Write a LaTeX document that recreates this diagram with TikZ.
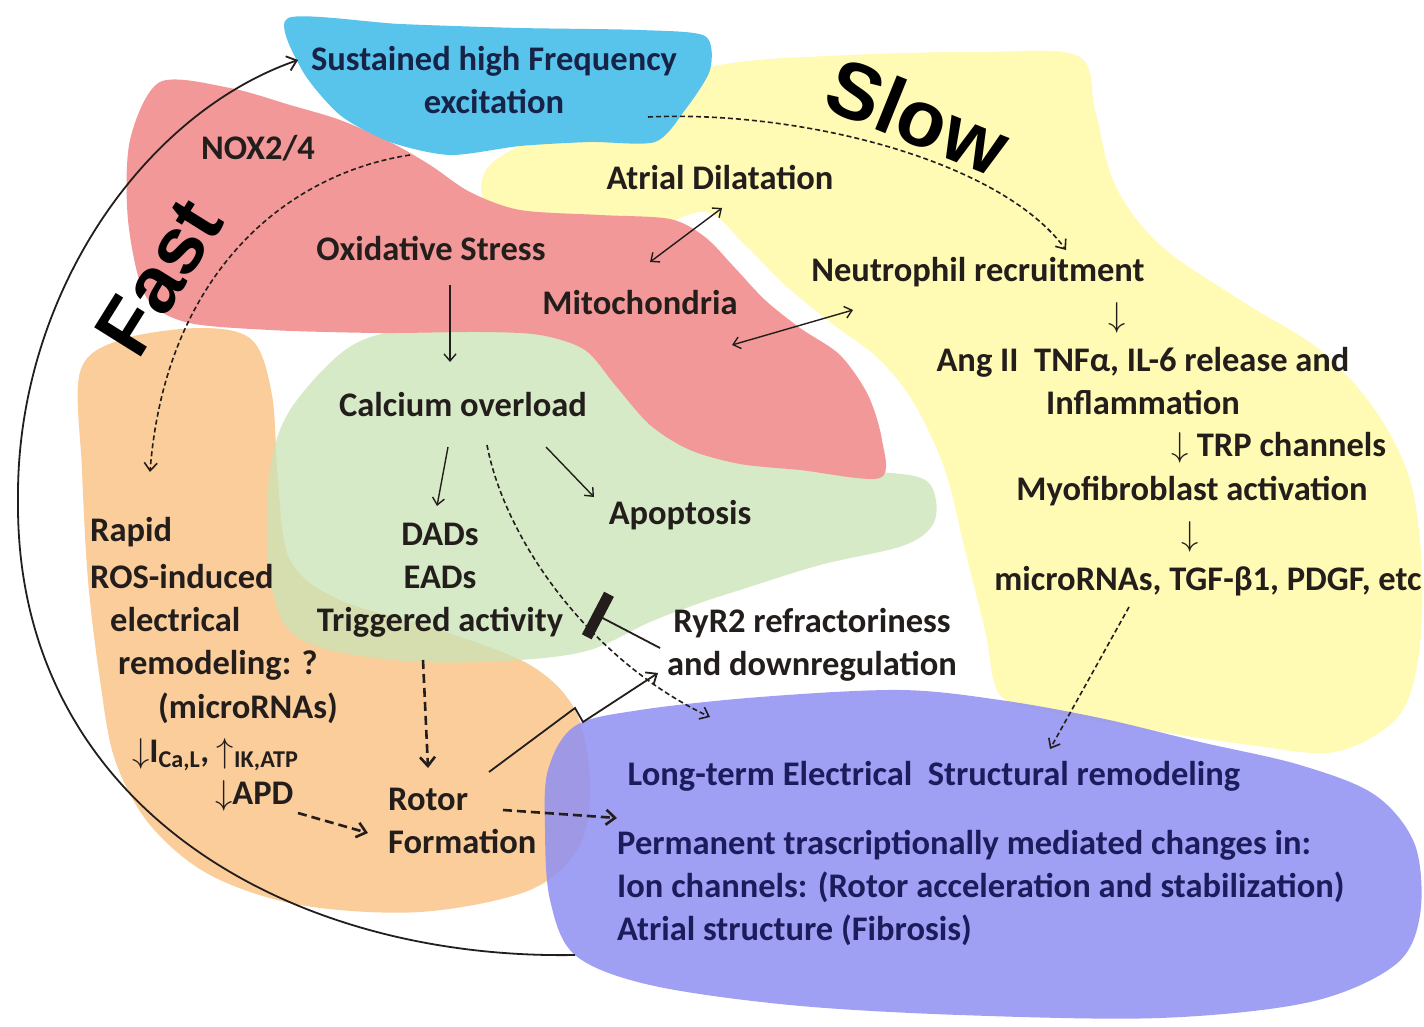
\documentclass[tikz,border=0pt]{standalone}
\usepackage{fix-cm}
\usepackage{fontspec}
\setmainfont{Carlito}
\newfontfamily\headfont{Liberation Sans}
\usetikzlibrary{arrows.meta}

\definecolor{ink}{RGB}{35,30,28}
\definecolor{navy}{RGB}{22,34,70}
\definecolor{deepblue}{RGB}{28,28,92}
\definecolor{cyanblob}{RGB}{88,196,236}
\definecolor{redblob}{RGB}{242,152,152}
\definecolor{yellowblob}{RGB}{255,250,180}
\definecolor{greenblob}{RGB}{202,228,182}
\definecolor{orangeblob}{RGB}{250,205,155}
\definecolor{purpleblob}{RGB}{143,143,243}

\begin{document}
\begin{tikzpicture}[x=1pt,y=-1pt,
    lbl/.style={inner sep=0pt, text=ink, align=center,
      font=\bfseries\fontsize{34.5}{43}\selectfont},
    big/.style={inner sep=0pt, font=\headfont\bfseries\fontsize{80}{80}\selectfont},
    thinarr/.style={-{Straight Barb[length=7pt,width=12pt]}, line width=1.4pt, color=ink},
    duoarr/.style={{Straight Barb[length=7pt,width=12pt]}-{Straight Barb[length=7pt,width=12pt]},
      line width=1.4pt, color=ink},
    solidarr/.style={-{Straight Barb[length=9pt,width=15pt]}, line width=1.8pt, color=ink},
    dasharr/.style={-{Straight Barb[length=8pt,width=13pt]}, line width=1.6pt, color=ink,
      dash pattern=on 5pt off 3pt},
    fatdash/.style={-{Straight Barb[length=9pt,width=15pt]}, line width=2.6pt, color=ink,
      dash pattern=on 9pt off 5pt}
  ]
  \fill[white] (0,0) rectangle (1424,1027);
  \useasboundingbox (0,0) rectangle (1424,1027);

  % painted regions
  \fill[yellowblob] plot[smooth cycle, tension=0.55] coordinates {
    (482,195) (490,165) (540,135) (620,100) (720,65) (850,55) (980,52)
    (1078,56) (1095,110) (1115,185) (1160,245) (1240,300) (1320,350)
    (1375,410) (1410,480) (1422,570) (1418,660) (1397,718) (1335,752)
    (1250,745) (1150,730) (1050,712) (1000,695) (985,630) (965,550)
    (945,470) (915,405) (880,360) (830,322) (785,285) (745,245)
    (705,212) (640,232) (560,230) (505,215)};
  \fill[orangeblob] plot[smooth cycle, tension=0.55] coordinates {
    (80,372) (120,340) (200,328) (252,340) (272,395) (278,480) (290,560)
    (340,600) (440,630) (530,665) (575,710) (590,780) (580,845) (530,890)
    (420,912) (300,905) (210,875) (150,825) (115,760) (100,680) (88,580)
    (82,470)};
  \fill[greenblob, fill opacity=0.75] plot[smooth cycle, tension=0.55] coordinates {
    (345,350) (400,330) (480,325) (560,335) (610,370) (650,415) (700,452)
    (780,468) (880,472) (928,482) (935,520) (905,545) (820,565) (740,590)
    (700,603) (650,622) (590,650) (520,660) (420,662) (330,650) (285,625)
    (268,560) (270,470) (290,410)};
  \fill[redblob] plot[smooth cycle, tension=0.5] coordinates {
    (160,82) (230,88) (290,105) (340,120) (390,142) (430,165) (470,192)
    (520,210) (600,215) (670,219) (705,237) (735,268) (765,300) (800,328)
    (840,355) (868,395) (882,440) (880,478) (800,470) (740,464) (690,450)
    (650,425) (615,385) (585,350) (540,335) (480,332) (380,333) (270,330)
    (185,322) (145,295) (128,220) (130,140)};
  \fill[cyanblob] plot[smooth cycle, tension=0.45] coordinates {
    (288,18) (400,24) (520,28) (640,30) (705,36) (710,70) (685,110)
    (655,142) (590,142) (520,146) (450,155) (390,142) (340,115) (302,70)};
  \fill[purpleblob, fill opacity=0.85] plot[smooth cycle, tension=0.55] coordinates {
    (548,770) (575,726) (640,710) (760,697) (900,690) (1000,700) (1100,718)
    (1200,742) (1300,765) (1375,795) (1415,845) (1420,915) (1395,965)
    (1310,1002) (1160,1018) (960,1015) (790,1005) (650,985) (575,955)
    (550,900) (545,830)};

  % loose ends on the regions
  \coordinate (blueedge) at (410,155);
  \coordinate (loopend) at (575,955);

  % labels
  \node[lbl, text=navy] (sustained) at (494,80) {Sustained high Frequency\\excitation};
  \node[lbl] (nox) at (258,148) {NOX2/4};
  \node[lbl] (oxid) at (431,248) {Oxidative Stress};
  \node[lbl] (atrial) at (720,177) {Atrial Dilatation};
  \node[lbl] (mito) at (640,303) {Mitochondria};
  \node[lbl] (neutro) at (978,272) {Neutrophil recruitment};
  \node[lbl] (dn1) at (1117,318) {$\downarrow$};
  \node[lbl] (ang) at (1143,381) {Ang II\ \ TNFα, IL-6 release and\\Inflammation};
  \node[lbl] (trp) at (1279,448) {$\downarrow$ TRP channels};
  \node[lbl] (myofib) at (1192,491) {Myofibroblast activation};
  \node[lbl] (dn2) at (1190,537) {$\downarrow$};
  \node[lbl] (mirna) at (1208,581) {microRNAs, TGF-β1, PDGF, etc};
  \node[lbl] (calcium) at (463,405) {Calcium overload};
  \node[lbl] (apopt) at (680,515) {Apoptosis};
  \node[lbl] (trig) at (440,580) {DADs\\EADs\\Triggered activity};
  \node[lbl] (ryr) at (812,645) {RyR2 refractoriness\\and downregulation};
  \node[lbl, anchor=west] (rapid1) at (90,532) {Rapid};
  \node[lbl, anchor=west] (rapid2) at (90,577) {ROS-induced};
  \node[lbl, anchor=west] (rapid3) at (110,620) {electrical};
  \node[lbl, anchor=west] (rapid4) at (118,665) {remodeling: ?};
  \node[lbl, anchor=west] (rapid5) at (158,708) {(microRNAs)};
  \node[lbl, anchor=west] (rapid6) at (132,755)
    {$\downarrow$I\textsubscript{Ca,L}, $\uparrow$\textsubscript{IK,ATP}};
  \node[lbl, anchor=west] (rapid7) at (215,796) {$\downarrow$APD};
  \node[lbl, anchor=west, align=left] (rotor) at (388,821) {Rotor\\Formation};
  \node[lbl, text=deepblue] (longterm) at (934,776) {Long-term Electrical\ \ Structural remodeling};
  \node[lbl, text=deepblue, anchor=west, align=left] (perm) at (617,888)
    {Permanent trascriptionally mediated changes in:\\
     Ion channels: (Rotor acceleration and stabilization)\\
     Atrial structure (Fibrosis)};
  \node[big, rotate=58] (fast) at (159,277) {Fast};
  \node[big, rotate=-22] (slow) at (918,116) {Slow};

  % fast and slow paths
  \draw[solidarr] (loopend)
    .. controls (280,960) and (15,800) .. (18,500)
    .. controls (16,300) and (140,115) .. ([shift={(-196,-20)}]sustained.center);
  \draw[dasharr] (blueedge) .. controls (280,175) and (165,280)
    .. ([shift={(60,-60)}]rapid1.west);
  \draw[dasharr] ([shift={(154,37)}]sustained.center) .. controls (800,110) and (1000,160)
    .. ([shift={(88,-22)}]neutro.center);

  % links between the events
  \draw[thinarr] ([shift={(19,37)}]oxid.center) -- ([shift={(-13,-43)}]calcium.center);
  \draw[duoarr] ([shift={(2,31)}]atrial.center) -- ([shift={(10,-41)}]mito.center);
  \draw[duoarr] ([shift={(92,42)}]mito.center) -- ([shift={(-125,38)}]neutro.center);
  \draw[thinarr] ([shift={(-15,42)}]calcium.center) -- ([shift={(-3,-74)}]trig.center);
  \draw[thinarr] ([shift={(83,42)}]calcium.center) -- ([shift={(-86,-18)}]apopt.center);
  \draw[dasharr] ([shift={(24,40)}]calcium.center) .. controls (505,540) and (590,660)
    .. ([shift={(-224,-59)}]longterm.center);
  \draw[-{Bar[width=48pt,line width=11pt]}, line width=1.8pt, color=ink]
    ([shift={(-152,3)}]ryr.center) -- ([shift={(153,33)}]trig.center);
  \draw[solidarr] ([shift={(101,-49)}]rotor.west)
    -- ++(86,-64) -- ++(8,14) -- ([shift={(-154,28)}]ryr.center);
  \draw[fatdash] ([shift={(-17,80)}]trig.center) -- ([shift={(40,-53)}]rotor.west);
  \draw[fatdash] ([shift={(83,17)}]rapid7.west) -- ([shift={(-20,12)}]rotor.west);
  \draw[fatdash] ([shift={(115,-11)}]rotor.west) -- ([shift={(0,-70)}]perm.west);
  \draw[dasharr] ([shift={(-79,26)}]mirna.center) -- ([shift={(116,-27)}]longterm.center);
\end{tikzpicture}
\end{document}
